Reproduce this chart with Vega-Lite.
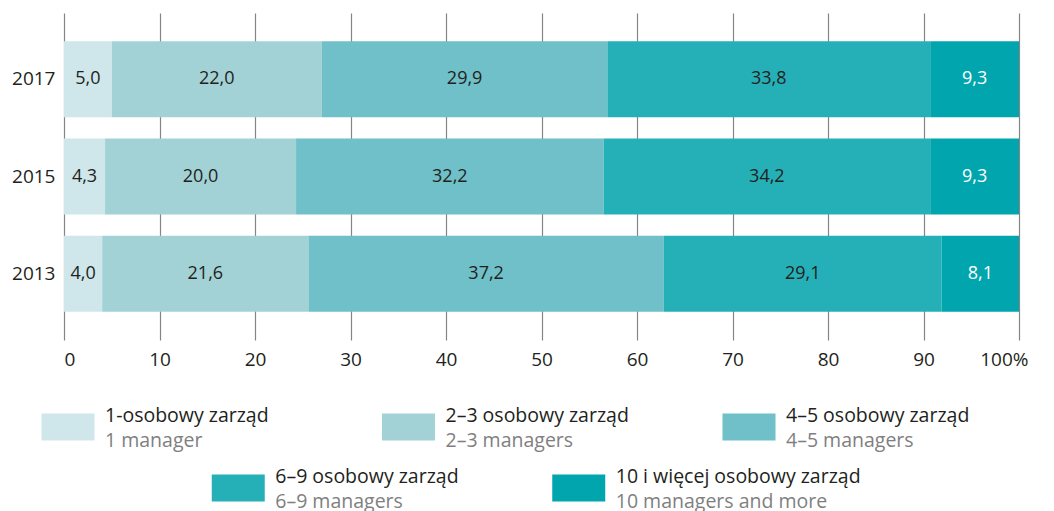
{
  "$schema": "https://vega.github.io/schema/vega-lite/v6.json",
  "autosize": {"type": "pad"},
  "padding": {"left": 11, "top": 13, "right": 5, "bottom": 0},
  "background": "white",
  "bounds": "flush",
  "spacing": 87,
  "config": {"view": {"stroke": null}, "font": "Open Sans", "text": {"font": "Open Sans"}},
  "datasets": {
    "bars": [
      {"year": "2017", "cat": "1-osobowy zarząd", "order": 1, "value": 5.0},
      {"year": "2017", "cat": "2–3 osobowy zarząd", "order": 2, "value": 22.0},
      {"year": "2017", "cat": "4–5 osobowy zarząd", "order": 3, "value": 29.9},
      {"year": "2017", "cat": "6–9 osobowy zarząd", "order": 4, "value": 33.8},
      {"year": "2017", "cat": "10 i więcej osobowy zarząd", "order": 5, "value": 9.3},
      {"year": "2015", "cat": "1-osobowy zarząd", "order": 1, "value": 4.3},
      {"year": "2015", "cat": "2–3 osobowy zarząd", "order": 2, "value": 20.0},
      {"year": "2015", "cat": "4–5 osobowy zarząd", "order": 3, "value": 32.2},
      {"year": "2015", "cat": "6–9 osobowy zarząd", "order": 4, "value": 34.2},
      {"year": "2015", "cat": "10 i więcej osobowy zarząd", "order": 5, "value": 9.3},
      {"year": "2013", "cat": "1-osobowy zarząd", "order": 1, "value": 4.0},
      {"year": "2013", "cat": "2–3 osobowy zarząd", "order": 2, "value": 21.6},
      {"year": "2013", "cat": "4–5 osobowy zarząd", "order": 3, "value": 37.2},
      {"year": "2013", "cat": "6–9 osobowy zarząd", "order": 4, "value": 29.1},
      {"year": "2013", "cat": "10 i więcej osobowy zarząd", "order": 5, "value": 8.1}
    ],
    "legend": [
      {"cat": "1-osobowy zarząd", "en": "1 manager", "slot": 0, "row": 1},
      {"cat": "2–3 osobowy zarząd", "en": "2–3 managers", "slot": 2, "row": 1},
      {"cat": "4–5 osobowy zarząd", "en": "4–5 managers", "slot": 4, "row": 1},
      {"cat": "6–9 osobowy zarząd", "en": "6–9 managers", "slot": 1, "row": 2},
      {"cat": "10 i więcej osobowy zarząd", "en": "10 managers and more", "slot": 3, "row": 2}
    ]
  },
  "vconcat": [
    {
      "width": 955,
      "height": 327,
      "data": {"name": "bars"},
      "transform": [
        {"stack": "value", "groupby": ["year"], "sort": [{"field": "order"}], "as": ["v0", "v1"]},
        {"calculate": "(datum.v0 + datum.v1) / 2", "as": "mid"},
        {"calculate": "replace(format(datum.value, '.1f'), '.', ',')", "as": "lbl"}
      ],
      "encoding": {
        "y": {
          "field": "year",
          "type": "nominal",
          "sort": ["2017", "2015", "2013"],
          "scale": {"paddingInner": 0.22, "paddingOuter": 0.29},
          "axis": {"title": null, "domain": false, "ticks": false, "grid": false, "labelPadding": 9, "labelFontSize": 19, "labelColor": "#231f20", "labelFont": "Open Sans"}
        }
      },
      "layer": [
        {
          "mark": {"type": "bar"},
          "encoding": {
            "x": {
              "field": "v0",
              "type": "quantitative",
              "scale": {"domain": [0, 100]},
              "axis": {
                "title": null,
                "values": [0, 10, 20, 30, 40, 50, 60, 70, 80, 90, 100],
                "domain": false,
                "ticks": false,
                "grid": true,
                "gridColor": "#858585",
                "gridWidth": 1.2,
                "labelFontSize": 19,
                "labelColor": "#231f20",
                "labelFont": "Open Sans",
                "labelPadding": 10,
                "labelOffset": {"expr": "datum.value == 100 ? 9 : 0"},
                "labelExpr": "datum.value == 100 ? '100%' : datum.label"
              }
            },
            "x2": {"field": "v1"},
            "color": {
              "field": "cat",
              "type": "nominal",
              "scale": {
                "domain": ["1-osobowy zarząd", "2–3 osobowy zarząd", "4–5 osobowy zarząd", "6–9 osobowy zarząd", "10 i więcej osobowy zarząd"],
                "range": ["#cfe7ea", "#a2d2d6", "#6fc0c8", "#25b0b8", "#00a5ad"]
              },
              "legend": null
            }
          }
        },
        {
          "mark": {"type": "text", "fontSize": 18, "font": "Open Sans"},
          "encoding": {
            "x": {"field": "mid", "type": "quantitative"},
            "text": {"field": "lbl"},
            "color": {"condition": {"test": "datum.order == 5", "value": "#ffffff"}, "value": "#231f20"}
          }
        }
      ]
    },
    {
      "width": 955,
      "height": 61,
      "data": {"name": "legend"},
      "encoding": {
        "x": {"field": "slot", "type": "quantitative", "scale": {"domain": [0, 4], "range": [4, 685]}, "axis": null},
        "y": {"field": "row", "type": "ordinal", "scale": {"type": "point", "padding": 0}, "axis": null}
      },
      "layer": [
        {
          "mark": {"type": "point", "shape": "M-1,-0.51H1V0.51H-1Z", "size": 2809, "filled": true, "opacity": 1, "strokeWidth": 0},
          "encoding": {
            "color": {"field": "cat", "type": "nominal", "legend": null}
          }
        },
        {
          "mark": {"type": "text", "align": "left", "baseline": "alphabetic", "dx": 37, "dy": -5.5, "fontSize": 19.5, "font": "Open Sans", "color": "#231f20"},
          "encoding": {"text": {"field": "cat"}}
        },
        {
          "mark": {"type": "text", "align": "left", "baseline": "alphabetic", "dx": 37, "dy": 20, "fontSize": 19.5, "font": "Open Sans", "color": "#7f7f7f"},
          "encoding": {"text": {"field": "en"}}
        }
      ]
    }
  ]
}
